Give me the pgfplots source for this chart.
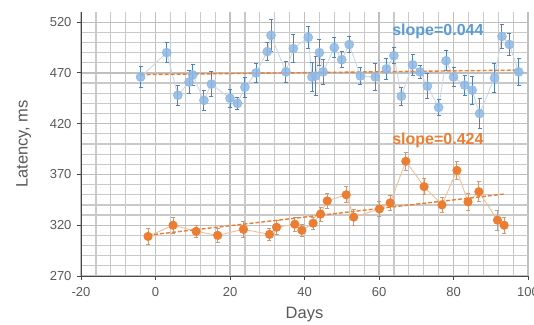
\documentclass[border=0pt]{standalone}
\usepackage{fontspec}
\setmainfont{Liberation Sans}
\usepackage{pgfplots}
\pgfplotsset{compat=1.18}
\definecolor{xblue}{HTML}{5B9BD5}
\definecolor{mblue}{HTML}{8FB8E4}
\definecolor{eblue}{HTML}{4F81BD}
\definecolor{lblue}{HTML}{C9D7E8}
\definecolor{xorange}{HTML}{ED7D31}
\definecolor{eorange}{HTML}{C99A78}
\definecolor{lorange}{HTML}{F2BE9A}
\definecolor{tickc}{HTML}{595959}
\begin{document}
\begin{tikzpicture}
\path[use as bounding box] (-81pt,-48pt) rectangle (453pt,276pt);
\begin{axis}[
  scale only axis, width=447pt, height=264pt,
  xmin=-20, xmax=100, ymin=270, ymax=530,
  xtick={-20,0,...,100}, ytick={270,320,...,520},
  minor x tick num=4, minor y tick num=4,
  grid=both,
  major grid style={draw=black!25, line width=1.2pt},
  minor grid style={draw=black!21, line width=1.2pt},
  axis x line*=bottom, axis y line*=left,
  axis line style={draw=black!72, line width=0.9pt},
  tick align=outside, major tick length=4pt, minor tick length=0pt,
  tick style={draw=black!72, line width=0.9pt},
  /pgf/number format/assume math mode=true,
  ticklabel style={font=\fontsize{13}{15}\selectfont, text=tickc},
  xticklabel style={yshift=-4pt},
  yticklabel style={xshift=-2pt},
  xlabel={Days}, ylabel={Latency, ms},
  label style={font=\fontsize{16.5}{18}\selectfont, text=tickc},
  xlabel style={at={(axis description cs:0.5,0)}, anchor=center, yshift=-39pt},
  ylabel style={at={(axis description cs:-0.128,0.5)}, anchor=center},
  clip=false,
]
% blue connecting line + markers
\addplot[color=lblue, line width=0.9pt, mark=*, mark size=4.4pt,
  mark options={draw=mblue, fill=mblue, fill opacity=0.85, draw opacity=0.85},
  error bars/.cd, y dir=both, y explicit,
  error bar style={draw=eblue, line width=0.9pt},
  error mark options={rotate=90, mark size=2pt, draw=eblue, line width=0.9pt}]
table[x=x, y=y, y error=e] {
x y e
-4 466 10
3 490 10
6 448 10
9 461 11
10 468 10
13 443 10
15 459 12
20 445 9
22 440 6
24 456 10
27 470 9
30 491 9
31 507 16
35 471 10
37 494 14
41 505 11
42 466 14
43 467 19
44 490 13
45 471 12
48 495 10
50 483 8
52 498 8
55 467 8
59 466 13
62 474 10
64 487 8
66 447 9
69 478 10
71 471 6
73 457 12
76 436 8
78 482 10
80 466 9
83 458 10
85 453 14
87 430 15
91 465 14
93 506 12
95 498 11
97.5 471 13
};
% orange
\addplot[color=lorange, line width=0.9pt, mark=*, mark size=4.1pt,
  mark options={draw=xorange, fill=xorange},
  error bars/.cd, y dir=both, y explicit,
  error bar style={draw=eorange, line width=0.9pt},
  error mark options={rotate=90, mark size=2pt, draw=eorange, line width=0.9pt}]
table[x=x, y=y, y error=e] {
x y e
-2 309 7.5
4.7 320 8
10.9 314 6
16.7 310 7
23.6 316 8
30.6 311 6
32.5 318 7
37.4 321 7
39.3 315 6
42.3 322 6
44.3 331 7
46.1 344 7
51.2 350 8
53.2 328 8
60.1 336 7
63 342 7
67.2 383 9
72.1 358 8
76.9 340 7
80.9 374 9
83.9 343 8
86.8 353 10
91.8 325 10
93.6 320 8
};
% trendlines
\addplot[xorange, line width=1.4pt, dash pattern=on 4pt off 2pt, no marks] coordinates {(-4,468.3) (97.5,472.8)};
\addplot[xorange, line width=1.4pt, dash pattern=on 4pt off 2pt, no marks] coordinates {(-2,310.2) (94,350.9)};
\node[font=\bfseries\fontsize{16}{18}\selectfont, text=xblue] at (axis cs:75.8,511) {slope=0.044};
\node[font=\bfseries\fontsize{16}{18}\selectfont, text=xorange] at (axis cs:75.8,404) {slope=0.424};
\end{axis}
\end{tikzpicture}
\end{document}
